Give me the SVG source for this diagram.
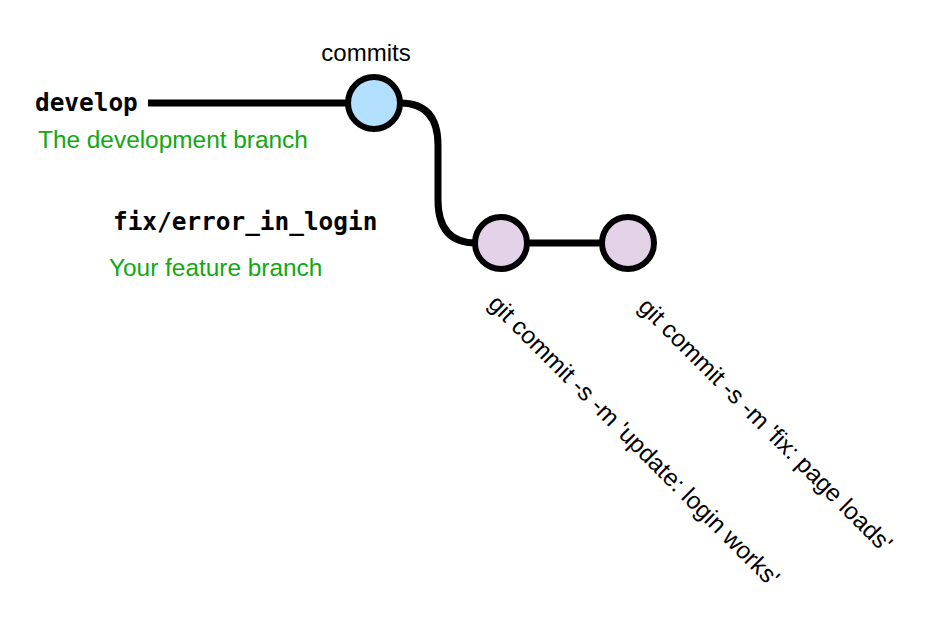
<svg xmlns="http://www.w3.org/2000/svg" width="941" height="634" viewBox="0 0 941 634">
<style>
.mono{font-family:"DejaVu Sans Mono","Liberation Mono",monospace;font-weight:bold;font-size:24.4px;fill:#000}
.lbl{font-family:"Liberation Sans",Arial,sans-serif;font-size:24px;fill:#000}
.rot{font-family:"Liberation Sans",Arial,sans-serif;font-size:24.4px;fill:#000}
.green{font-family:"Liberation Sans",Arial,sans-serif;font-size:24.4px;fill:#11a811}
.edge{fill:none;stroke:#000;stroke-width:7}
.commit{stroke:#000;stroke-width:6}
</style>
<rect width="941" height="634" fill="#fff"/>
<g id="connectors">
<path class="edge" d="M148 103 L348 103"/>
<path class="edge" d="M400 103 Q438 103 438 145 L438 200 Q438 243 476 243"/>
<path class="edge" d="M526 243 L602 243"/>
</g>
<g id="develop-label">
<text class="mono" x="35" y="111">develop</text>
<text class="green" x="38" y="148">The development branch</text>
</g>
<g id="feature-label">
<text class="mono" x="113" y="230">fix/error_in_login</text>
<text class="green" x="109" y="276">Your feature branch</text>
</g>
<g id="commit-develop">
<text class="lbl" x="366" y="61" text-anchor="middle">commits</text>
<circle class="commit" cx="374" cy="103" r="26" fill="#b3e0ff"/>
</g>
<g id="commit-1">
<circle class="commit" cx="501" cy="243" r="26" fill="#e4d2e8"/>
<text class="rot" transform="translate(487 305) rotate(45)">git commit -s -m 'update: login works'</text>
</g>
<g id="commit-2">
<circle class="commit" cx="628" cy="243" r="26" fill="#e4d2e8"/>
<text class="rot" transform="translate(637 308) rotate(45)">git commit -s -m 'fix: page loads'</text>
</g>
</svg>
